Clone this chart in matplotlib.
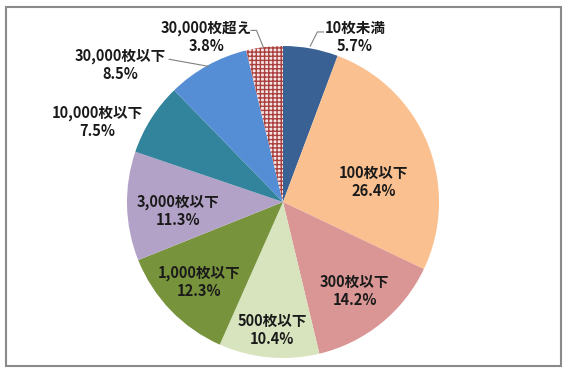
import matplotlib.pyplot as plt
from matplotlib.patches import Rectangle

plt.rcParams['font.family'] = ['Noto Sans CJK JP', 'DejaVu Sans']
plt.rcParams['hatch.color'] = '#a8403d'
plt.rcParams['hatch.linewidth'] = 1.0

# data (clockwise from 12 o'clock)
categories = ['10枚未満', '100枚以下', '300枚以下', '500枚以下', '1,000枚以下',
              '3,000枚以下', '10,000枚以下', '30,000枚以下', '30,000枚超え']
shares = [5.7, 26.4, 14.2, 10.4, 12.3, 11.3, 7.5, 8.5, 3.8]
colors = ['#3a6193', '#fac090', '#d99694', '#d7e4bd', '#77933c',
          '#b3a2c7', '#31849b', '#558ed5', '#f7e4e4']

# label centres, in pie radii from the centre
label_pos = [(0.46, 1.06), (0.58, 0.13), (0.46, -0.57), (-0.07, -0.82),
             (-0.54, -0.51), (-0.67, -0.06), (-1.19, 0.51), (-1.04, 0.88),
             (-0.49, 1.06)]
# leader lines for the outside labels: index -> polyline
leaders = {
    0: [(0.175, 1.0), (0.22, 1.09), (0.26, 1.09)],
    7: [(-0.48, 0.87), (-0.73, 0.915)],
    8: [(-0.125, 0.99), (-0.17, 1.10), (-0.205, 1.10)],
}

fig = plt.figure(figsize=(5.66, 3.74), dpi=100)
ax = fig.add_axes([0, 0, 1, 1])

wedges, _ = ax.pie(shares, colors=colors, startangle=90, counterclock=False,
                   radius=1.0, wedgeprops=dict(linewidth=0))
wedges[-1].set_hatch('++++')
wedges[-1].set_edgecolor('#a8403d')
wedges[-1].set_linewidth(0)

for i, (cat, val) in enumerate(zip(categories, shares)):
    x, y = label_pos[i]
    ax.text(x, y, f'{cat}\n{val:.1f}%', ha='center', va='center',
            fontsize=10.5, fontweight='bold', color='#1a1a1a', linespacing=1.15)

for pts in leaders.values():
    xs, ys = zip(*pts)
    ax.plot(xs, ys, color='#808080', lw=0.8)

ax.set_xlim(-283 / 156, 283 / 156)
ax.set_ylim(-172 / 156, 202 / 156)
ax.set_aspect('auto')
ax.axis('off')

fig.patches.append(Rectangle((5.5 / 566, 8.5 / 374), 555 / 566, 359 / 374,
                             transform=fig.transFigure, fill=False,
                             edgecolor='#8a8a8a', linewidth=1.5))

plt.savefig('out.png', dpi=100, facecolor='white')
